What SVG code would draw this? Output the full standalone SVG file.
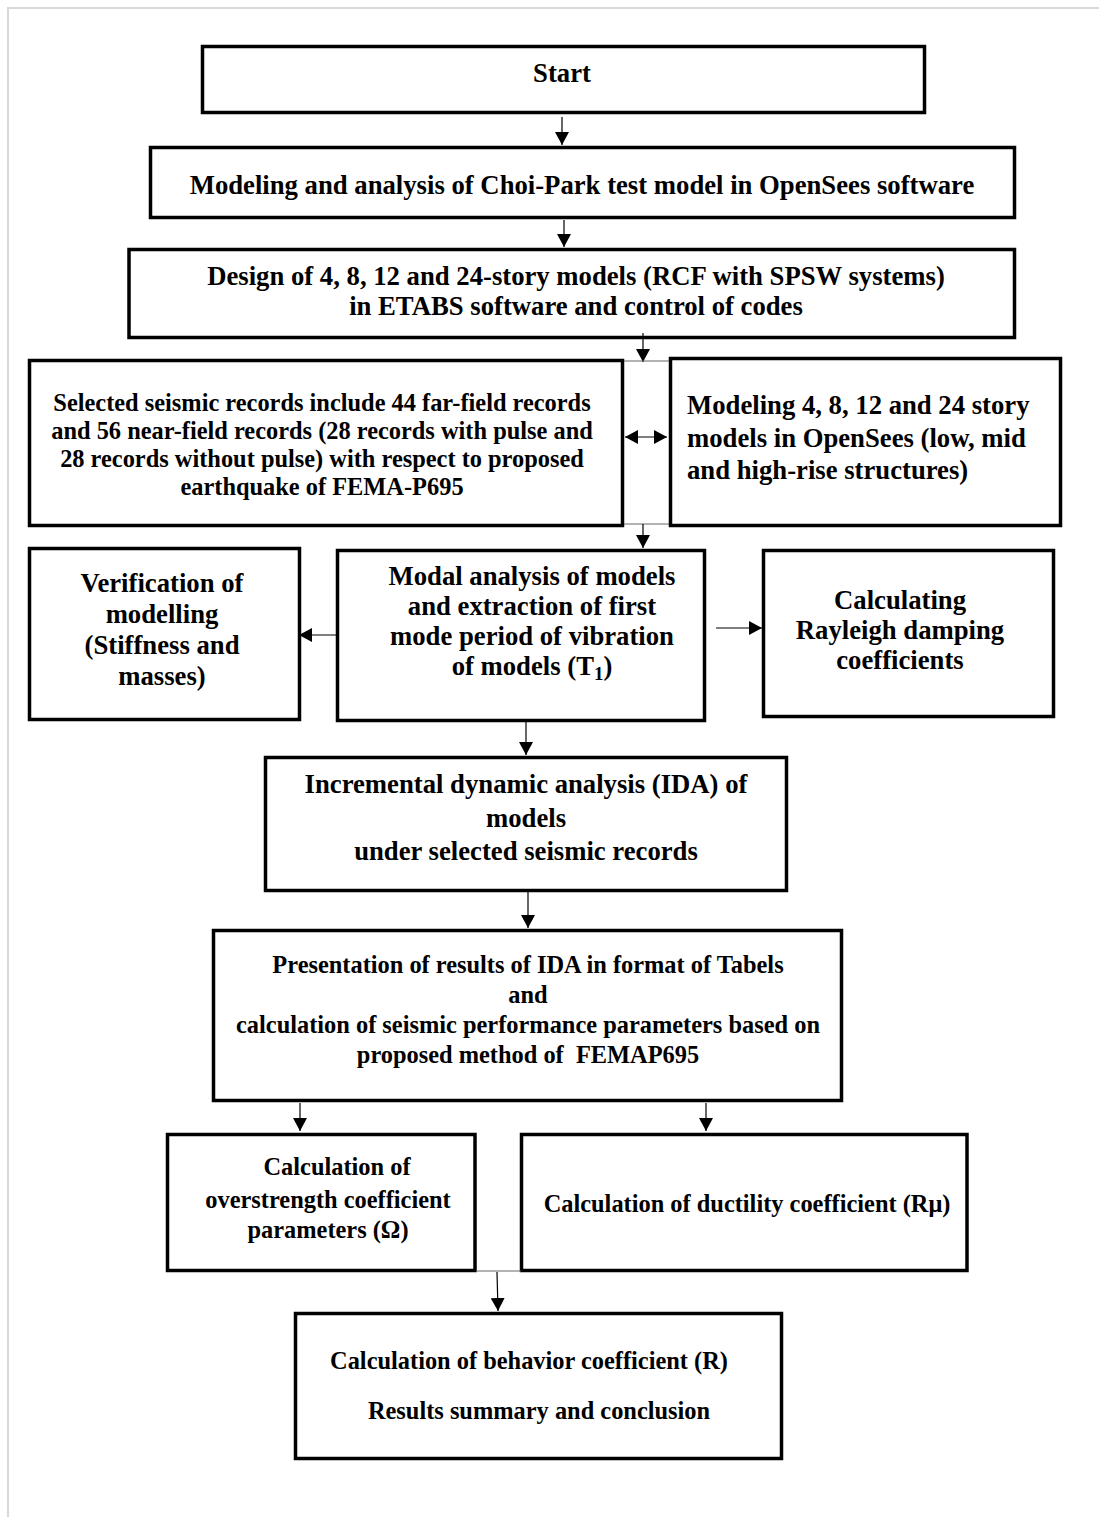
<svg xmlns="http://www.w3.org/2000/svg" width="1099" height="1517" viewBox="0 0 1099 1517">
<style>
.box{fill:#fff;stroke:#000;stroke-width:3.5}
.t{font-family:"Liberation Serif","Times New Roman",serif;font-weight:bold;fill:#000;text-anchor:middle}
.b{font-size:26.7px}
.s{font-size:24.4px}
.l{text-anchor:start}
.c{stroke:#000;stroke-width:1.2;fill:none}
.g{stroke:#666;stroke-width:1;fill:none}
.frame{stroke:#d9d9d9;stroke-width:2;fill:none}
</style>
<defs>
<marker id="ah" markerUnits="userSpaceOnUse" markerWidth="14" markerHeight="14" viewBox="0 0 14 14" refX="13" refY="7" orient="auto-start-reverse">
<path d="M0,0 L13,7 L0,14 Z" fill="#000"/>
</marker>
</defs>
<rect width="1099" height="1517" fill="#fff"/>
<path class="frame" d="M8,1517 L8,8 L1099,8"/>

<g id="n-start">
<rect class="box" x="202.5" y="46.5" width="722" height="66"/>
<text class="t b" x="562" y="82">Start</text>
</g>
<g id="n-choi">
<rect class="box" x="150.5" y="147.5" width="864" height="70"/>
<text class="t b" x="582" y="194">Modeling and analysis of Choi-Park test model in OpenSees software</text>
</g>
<g id="n-design">
<rect class="box" x="129" y="249.5" width="885.5" height="88"/>
<text class="t b" x="576" y="285">Design of 4, 8, 12 and 24-story models (RCF with SPSW systems)</text>
<text class="t b" x="576" y="315">in ETABS software and control of codes</text>
</g>
<g id="n-records">
<rect class="box" x="29.5" y="360.5" width="593" height="165"/>
<text class="t s" x="322" y="411">Selected seismic records include 44 far-field records</text>
<text class="t s" x="322" y="439">and 56 near-field records (28 records with pulse and</text>
<text class="t s" x="322" y="467">28 records without pulse) with respect to proposed</text>
<text class="t s" x="322" y="495">earthquake of FEMA-P695</text>
</g>
<g id="n-models">
<rect class="box" x="670.5" y="358.5" width="390" height="167"/>
<text class="t b l" x="687" y="414">Modeling 4, 8, 12 and 24 story</text>
<text class="t b l" x="687" y="446.5">models in OpenSees (low, mid</text>
<text class="t b l" x="687" y="479">and high-rise structures)</text>
</g>
<g id="n-verify">
<rect class="box" x="29.5" y="548.5" width="270" height="171"/>
<text class="t b" x="162" y="592">Verification of</text>
<text class="t b" x="162" y="623">modelling</text>
<text class="t b" x="162" y="654">(Stiffness and</text>
<text class="t b" x="162" y="685">masses)</text>
</g>
<g id="n-modal">
<rect class="box" x="337.5" y="550.5" width="367" height="170"/>
<text class="t b" x="532" y="585">Modal analysis of models</text>
<text class="t b" x="532" y="615">and extraction of first</text>
<text class="t b" x="532" y="645">mode period of vibration</text>
<text class="t b" x="532" y="675">of models (T<tspan font-size="19" dy="5">1</tspan><tspan dy="-5">)</tspan></text>
</g>
<g id="n-rayleigh">
<rect class="box" x="763.5" y="550.5" width="290" height="166"/>
<text class="t b" x="900" y="609">Calculating</text>
<text class="t b" x="900" y="639">Rayleigh damping</text>
<text class="t b" x="900" y="669">coefficients</text>
</g>
<g id="n-ida">
<rect class="box" x="265.5" y="757.5" width="521" height="133"/>
<text class="t b" x="526" y="793">Incremental dynamic analysis (IDA) of</text>
<text class="t b" x="526" y="826.5">models</text>
<text class="t b" x="526" y="859.5">under selected seismic records</text>
</g>
<g id="n-present">
<rect class="box" x="213.5" y="930.5" width="628" height="170"/>
<text class="t s" x="528" y="973">Presentation of results of IDA in format of Tabels</text>
<text class="t s" x="528" y="1003">and</text>
<text class="t s" x="528" y="1033">calculation of seismic performance parameters based on</text>
<text class="t s" x="528" y="1063">proposed method of&#160; FEMAP695</text>
</g>
<g id="n-omega">
<rect class="box" x="167.5" y="1134.5" width="307.5" height="136"/>
<text class="t s" x="337" y="1175">Calculation of</text>
<text class="t s" x="328" y="1208">overstrength coefficient</text>
<text class="t s" x="328" y="1238">parameters (Ω)</text>
</g>
<g id="n-ductility">
<rect class="box" x="521.5" y="1134.5" width="445.5" height="136"/>
<text class="t s" x="747" y="1212">Calculation of ductility coefficient (Rμ)</text>
</g>
<g id="n-behavior">
<rect class="box" x="295.5" y="1313.5" width="486" height="145"/>
<text class="t s" x="529" y="1369">Calculation of behavior coefficient (R)</text>
<text class="t s" x="539" y="1419">Results summary and conclusion</text>
</g>

<g id="connectors">
<line class="c" x1="562" y1="117" x2="562" y2="145" marker-end="url(#ah)"/>
<line class="c" x1="564" y1="220" x2="564" y2="247" marker-end="url(#ah)"/>
<line class="c" x1="643" y1="333" x2="643" y2="362" marker-end="url(#ah)"/>
<line class="g" x1="624" y1="361" x2="669" y2="361"/>
<line class="c" x1="625" y1="437" x2="667" y2="437" marker-start="url(#ah)" marker-end="url(#ah)"/>
<line class="g" x1="624" y1="524" x2="669" y2="524"/>
<line class="c" x1="643" y1="524" x2="643" y2="548" marker-end="url(#ah)"/>
<line class="c" x1="336" y1="635" x2="299" y2="635" marker-end="url(#ah)"/>
<line class="c" x1="716" y1="628" x2="762" y2="628" marker-end="url(#ah)"/>
<line class="c" x1="526" y1="722" x2="526" y2="755" marker-end="url(#ah)"/>
<line class="c" x1="528" y1="892" x2="528" y2="928" marker-end="url(#ah)"/>
<line class="c" x1="300" y1="1103" x2="300" y2="1131" marker-end="url(#ah)"/>
<line class="c" x1="706" y1="1103" x2="706" y2="1131" marker-end="url(#ah)"/>
<line class="g" x1="476" y1="1271" x2="521" y2="1271"/>
<line class="c" x1="497" y1="1272" x2="498" y2="1311" marker-end="url(#ah)"/>
</g>
</svg>
